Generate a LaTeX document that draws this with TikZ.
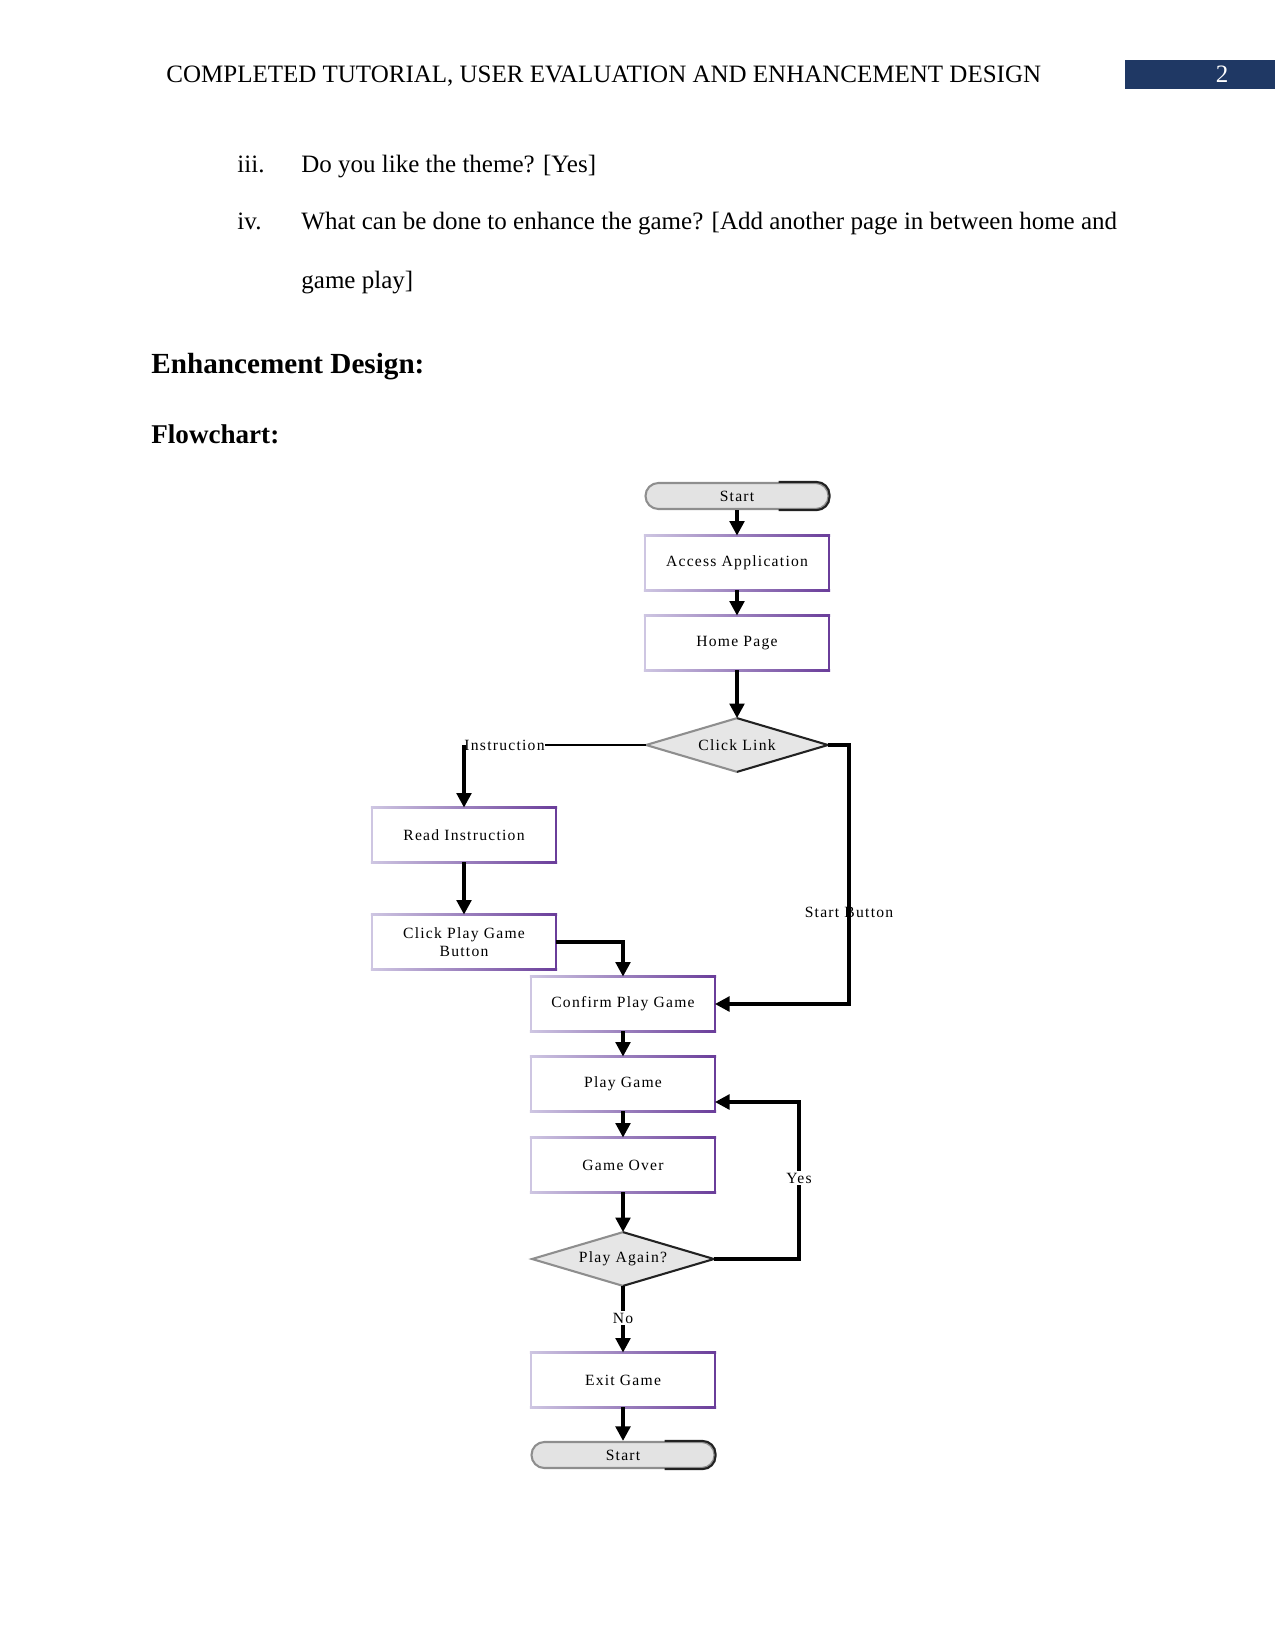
\documentclass[tikz,border=0pt]{standalone}
\usepackage{fontspec}
\setmainfont{Liberation Serif}
\newfontfamily\fcfont[LetterSpace=8]{Liberation Serif}
\usetikzlibrary{arrows.meta,shapes.geometric,calc}
\definecolor{navy}{HTML}{1F3864}
\definecolor{lavL}{HTML}{CEC6E2}
\definecolor{purD}{HTML}{6A3D9A}
\definecolor{dfill}{HTML}{E6E6E6}
\definecolor{tfill}{HTML}{E3E3E3}
\definecolor{gedge}{HTML}{8E8E8E}
\definecolor{dedge}{HTML}{222222}
\newcommand\pborder[1]{%
  \shade[left color=lavL, right color=purD] ([shift={(-0.55pt,0.55pt)}]#1.north west) rectangle ([shift={(0.55pt,-0.55pt)}]#1.north east);
  \shade[left color=lavL, right color=purD] ([shift={(-0.55pt,0.55pt)}]#1.south west) rectangle ([shift={(0.55pt,-0.55pt)}]#1.south east);
  \fill[lavL] ([shift={(-0.55pt,0.55pt)}]#1.north west) rectangle ([shift={(0.55pt,-0.55pt)}]#1.south west);
  \fill[purD] ([shift={(-0.55pt,0.55pt)}]#1.north east) rectangle ([shift={(0.55pt,-0.55pt)}]#1.south east);
}
\newcommand\dborder[1]{%
  \draw[gedge, line width=1pt, line join=miter] (#1.south) -- (#1.west) -- (#1.north);
  \draw[dedge, line width=1pt, line join=miter] (#1.north) -- (#1.east) -- (#1.south);
}
\newcommand\tborder[1]{%
  \begin{scope}
    \clip ([shift={(20pt,3pt)}]#1.north) rectangle ([shift={(3pt,-3pt)}]#1.south east);
    \draw[dedge, line width=1pt, rounded corners=6.2pt] (#1.north west) rectangle (#1.south east);
  \end{scope}
}
\tikzset{
  fcf/.style={font=\fcfont\fontsize{7.5}{8.6}\selectfont},
  arr/.style={line width=1.7pt, -{Triangle[length=7pt,width=7pt]}},
  ln/.style={line width=1.3pt},
  pbox/.style={rectangle, fill=white, minimum width=87.84pt, minimum height=25.92pt, inner sep=1pt, align=center, fcf},
  decide/.style={diamond, fill=dfill, minimum width=86.9pt, minimum height=25.4pt, aspect=3.4, inner sep=0pt, fcf},
  term/.style={rectangle, rounded corners=6.2pt, fill=tfill, draw=gedge, line width=1pt, minimum width=87.84pt, minimum height=12.5pt, inner sep=0pt, fcf},
  lbl/.style={inner sep=1pt, fcf},
  body/.style={anchor=base west, inner sep=0pt, font=\fontsize{12}{14}\selectfont},
}
\begin{document}
\begin{tikzpicture}[x=0.48pt, y=-0.48pt]
\useasboundingbox (0,0) rectangle (1275,1651);
% header
\node[body] (hdr) at (166,83) {COMPLETED TUTORIAL, USER EVALUATION AND ENHANCEMENT DESIGN};
\fill[navy] (1125,60) rectangle (1275,89);
\node[anchor=base, inner sep=0pt, text=white, font=\fontsize{12}{14}\selectfont] (pg) at (1222,83) {2};
% body text
\node[body] (n3) at (237,173) {iii.};
\node[body] (t3) at (301,173) {Do you like the theme? [Yes]};
\node[body] (n4) at (237,230) {iv.};
\node[body] (t4) at (301,230) {What can be done to enhance the game? [Add another page in between home and};
\node[body] (t5) at (301,288) {game play]};
\node[anchor=base west, inner sep=0pt, font=\fontsize{14}{16}\bfseries\selectfont] (h1) at (151,373) {Enhancement Design:};
\node[anchor=base west, inner sep=0pt, font=\fontsize{13}{15}\bfseries\selectfont] (h2) at (151,443) {Flowchart:};
% flowchart nodes
\node[term] (s1) at (737,496) {Start};
\node[pbox] (acc) at (737,563) {Access Application};
\node[pbox] (home) at (737,643) {Home Page};
\node[decide] (dia) at (737,745) {Click Link};
\node[pbox] (read) at (464,835) {Read Instruction};
\node[pbox] (click) at (464,942) {Click Play Game\\Button};
\node[pbox] (conf) at (623,1004) {Confirm Play Game};
\node[pbox] (play) at (623,1084) {Play Game};
\node[pbox] (over) at (623,1165) {Game Over};
\node[decide] (pa) at (623,1259) {Play Again?};
\node[pbox] (exit) at (623,1380) {Exit Game};
\node[term] (s2) at (623,1455) {Start};
\foreach \n in {acc,home,read,click,conf,play,over,exit} {\pborder{\n}}
\dborder{dia}
\dborder{pa}
\tborder{s1}
\tborder{s2}
% connectors
\draw[arr] (s1.south) -- (acc.north);
\draw[arr] (acc.south) -- (home.north);
\draw[arr] (home.south) -- (dia.north);
\node[anchor=west, inner sep=0pt, fcf] (ilbl) at (464,745) {Instruction};
\draw[ln] (dia.west) -- (ilbl.east);
\draw[arr] (ilbl.west) -- (read.north);
\draw[arr] (read.south) -- (click.north);
\draw[arr] (click.east) -| (conf.north);
\draw[arr] (dia.east) -- ++(21,0) |- (conf.east);
\node[lbl, anchor=base] (sblbl) at (849,917) {Start Button};
\draw[arr] (conf.south) -- (play.north);
\draw[arr] (play.south) -- (over.north);
\draw[arr] (over.south) -- (pa.north);
\coordinate (yesc) at (799,1102);
\draw[arr] (pa.east) -| (yesc) -- (play.east |- yesc);
\node[lbl, fill=white, anchor=base] (yeslbl) at (799,1183) {Yes};
\draw[arr] (pa.south) -- (exit.north);
\node[lbl, fill=white] (nolbl) at (623,1318) {No};
\draw[arr] (exit.south) -- (s2.north);
\end{tikzpicture}
\end{document}
